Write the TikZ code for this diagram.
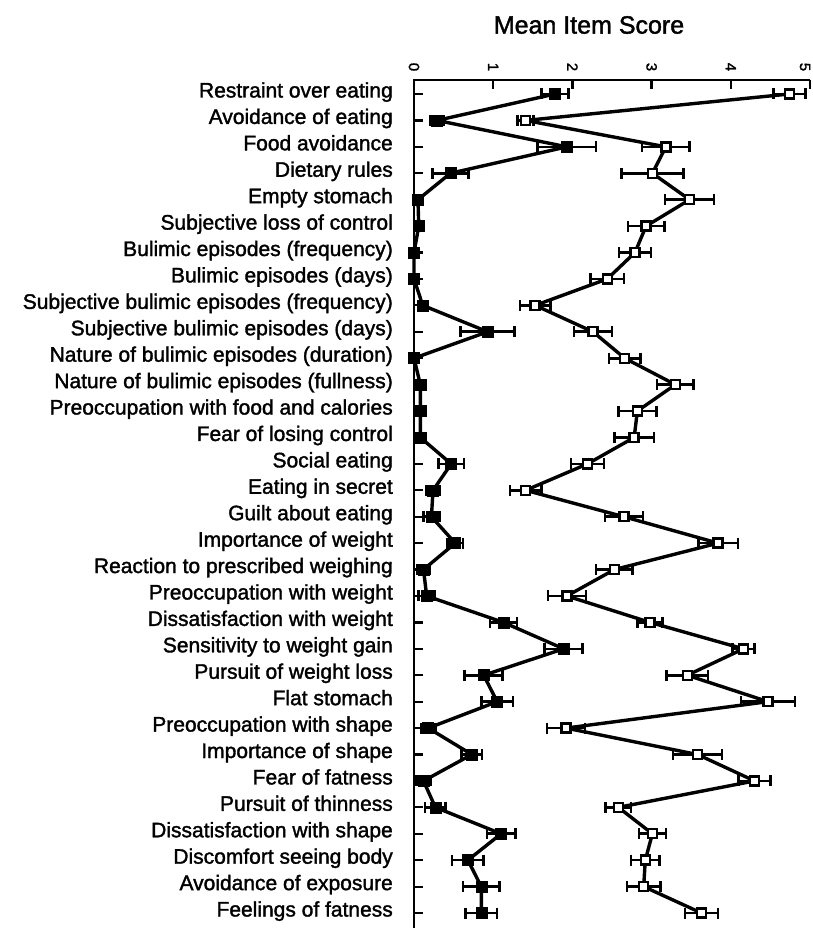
\documentclass[tikz,border=0pt]{standalone}
\usepackage{fontspec}
\setmainfont{Liberation Sans}
\newfontfamily\itemfont{Liberation Sans}[FakeBold=1.6]
\usepackage{tikz}
\usetikzlibrary{calc}

\begin{document}
\begin{tikzpicture}[x=1pt, y=-1pt,
		axis/.style={line width=2.8pt, line cap=rect},
		itemlabel/.style={anchor=base east, inner sep=0pt, font=\itemfont\fontsize{21}{24}\selectfont},
		dataline/.style={line width=3.4pt, line join=round},
		errbar/.style={line width=2.6pt},
		fillmark/.style={fill=black, draw=black, line width=0.6pt, minimum size=11pt, inner sep=0pt},
		openmark/.style={fill=white, draw=black, line width=2.4pt, minimum size=9pt, inner sep=0pt}]
			\useasboundingbox (0, 0) rectangle (813, 928);
			\node (title) at (589, 25) {\itemfont\fontsize{25}{28}\selectfont Mean Item Score};
			% axes
			\coordinate (origin) at (414, 80);
			\draw[axis] (414, 928) -- (origin) -- (809, 80);
			\foreach \k in {0,...,5} {
				\draw[line width=2.4pt] ({414+79.2*\k}, 80) -- ({414+79.2*\k}, 89);
				\node[rotate=-90, inner sep=0pt] (tick\k) at ({min(414+79.2*\k, 805)}, 67) {\itemfont\fontsize{15}{16}\selectfont \k};
			}
			% items: number/label/filled mean/filled err/open mean/open err
			\foreach \i/\lab/\f/\fe/\o/\oe in {
				1/Restraint over eating/1.78/0.17/4.74/0.20,
				2/Avoidance of eating/0.29/0.08/1.41/0.10,
				3/Food avoidance/1.93/0.37/3.18/0.30,
				4/Dietary rules/0.46/0.23/3.01/0.39,
				5/Empty stomach/0.05/0.03/3.48/0.31,
				6/Subjective loss of control/0.06/0.03/2.93/0.23,
				7/Bulimic episodes (frequency)/0.0/0.02/2.79/0.20,
				8/Bulimic episodes (days)/0.0/0.02/2.44/0.21,
				9/Subjective bulimic episodes (frequency)/0.11/0.05/1.53/0.19,
				10/Subjective bulimic episodes (days)/0.93/0.34/2.26/0.24,
				11/Nature of bulimic episodes (duration)/0.0/0.02/2.66/0.20,
				12/Nature of bulimic episodes (fullness)/0.08/0.03/3.30/0.23,
				13/Preoccupation with food and calories/0.08/0.03/2.82/0.24,
				14/Fear of losing control/0.08/0.03/2.78/0.25,
				15/Social eating/0.47/0.16/2.19/0.21,
				16/Eating in secret/0.24/0.09/1.41/0.20,
				17/Guilt about eating/0.22/0.10/2.65/0.24,
				18/Importance of weight/0.52/0.10/3.84/0.25,
				19/Reaction to prescribed weighing/0.12/0.08/2.53/0.23,
				20/Preoccupation with weight/0.16/0.10/1.93/0.24,
				21/Dissatisfaction with weight/1.13/0.17/2.98/0.16,
				22/Sensitivity to weight gain/1.89/0.24/4.16/0.14,
				23/Pursuit of weight loss/0.88/0.24/3.45/0.26,
				24/Flat stomach/1.05/0.20/4.47/0.34,
				25/Preoccupation with shape/0.18/0.09/1.92/0.24,
				26/Importance of shape/0.73/0.13/3.58/0.31,
				27/Fear of fatness/0.12/0.09/4.30/0.20,
				28/Pursuit of thinness/0.27/0.13/2.58/0.16,
				29/Dissatisfaction with shape/1.10/0.18/3.01/0.17,
				30/Discomfort seeing body/0.68/0.20/2.92/0.18,
				31/Avoidance of exposure/0.85/0.23/2.90/0.21,
				32/Feelings of fatness/0.85/0.20/3.63/0.21} {
				\pgfmathsetmacro{\y}{94+(\i-1)*26.42}
				\node[itemlabel] (item\i) at (393, \y+3.5) {\lab};
				\draw[line width=2.2pt] (414, \y) -- (423, \y);
				\coordinate (f\i) at ({414+79.2*\f}, \y);
				\coordinate (o\i) at ({414+79.2*\o}, \y);
				\coordinate (fl\i) at ({414+79.2*(\f-\fe)}, \y);
				\coordinate (fr\i) at ({414+79.2*(\f+\fe)}, \y);
				\coordinate (ol\i) at ({414+79.2*(\o-\oe)}, \y);
				\coordinate (or\i) at ({414+79.2*(\o+\oe)}, \y);
			}
			% profiles
			\draw[dataline] (f1) \foreach \i in {2,...,32} { -- (f\i) };
			\draw[dataline] (o1) \foreach \i in {2,...,32} { -- (o\i) };
			% error bars and markers
			\foreach \i in {1,...,32} {
				\draw[errbar] (fl\i) -- (fr\i);
				\draw[errbar] ($(fl\i)+(0,-5.5)$) -- ($(fl\i)+(0,5.5)$);
				\draw[errbar] ($(fr\i)+(0,-5.5)$) -- ($(fr\i)+(0,5.5)$);
				\draw[errbar] (ol\i) -- (or\i);
				\draw[errbar] ($(ol\i)+(0,-5.5)$) -- ($(ol\i)+(0,5.5)$);
				\draw[errbar] ($(or\i)+(0,-5.5)$) -- ($(or\i)+(0,5.5)$);
				\node[fillmark] (fm\i) at (f\i) {};
				\node[openmark] (om\i) at (o\i) {};
			}
		\end{tikzpicture}
\end{document}
